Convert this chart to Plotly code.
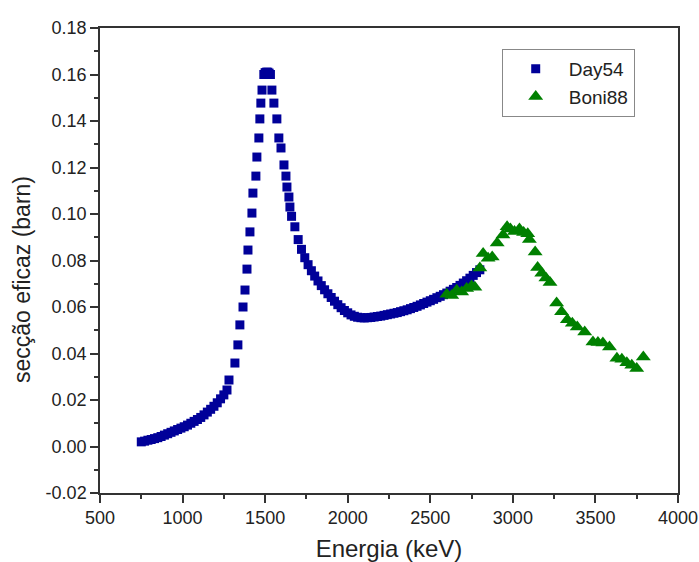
import plotly.graph_objects as go

# Day54 data (energy keV, cross section barn)
day54_E = [750, 770, 790, 810, 830, 850, 870, 890, 910, 930, 950, 970, 990, 1010, 1030,
           1050, 1070, 1090, 1110, 1130, 1150, 1170, 1190, 1210, 1230, 1250,
           1269, 1281, 1317, 1335, 1347, 1366, 1378, 1390, 1396, 1408, 1420, 1426, 1444,
           1450, 1462, 1468, 1474, 1481, 1492, 1500, 1508, 1516, 1524, 1532,
           1541, 1553, 1571, 1583, 1596, 1614, 1626, 1632, 1644, 1650,
           1660, 1680, 1700, 1720, 1740, 1760, 1780, 1800, 1820, 1840, 1860, 1880, 1900,
           1920, 1940, 1960, 1980, 2000, 2020, 2040, 2060, 2080, 2100, 2120, 2140, 2160,
           2180, 2200, 2220, 2240, 2260, 2280, 2300, 2320, 2340, 2360, 2380, 2400, 2420,
           2440, 2460, 2480, 2500, 2520, 2540, 2560, 2580, 2600, 2620, 2640, 2660, 2680,
           2700, 2720, 2740, 2760, 2780, 2800]
day54_v = [0.0020, 0.0023, 0.0027, 0.0030, 0.0034, 0.0038, 0.0043, 0.0049, 0.0055, 0.0061,
           0.0067, 0.0073, 0.0079, 0.0085, 0.0092, 0.0100, 0.0108, 0.0116, 0.0125, 0.0136,
           0.0148, 0.0160, 0.0173, 0.0188, 0.0205, 0.0222,
           0.0243, 0.0286, 0.0359, 0.0437, 0.0523, 0.0600, 0.0673, 0.0763, 0.0845, 0.0923,
           0.1004, 0.1090, 0.1163, 0.1245, 0.1327, 0.1409, 0.1477, 0.1533, 0.1600, 0.1608,
           0.1610, 0.1610, 0.1606, 0.1600,
           0.1533, 0.1477, 0.1409, 0.1327, 0.1284, 0.1211, 0.1163, 0.1116, 0.1073, 0.1030,
           0.0990, 0.0945, 0.0890, 0.0848, 0.0812, 0.0782, 0.0756, 0.0733, 0.0712, 0.0692,
           0.0674, 0.0657, 0.0641, 0.0625, 0.0610, 0.0597, 0.0585, 0.0575, 0.0566, 0.0560,
           0.0556, 0.0554, 0.0553, 0.0554, 0.0555, 0.0557, 0.0559, 0.0561, 0.0564, 0.0567,
           0.0570, 0.0573, 0.0576, 0.0580, 0.0584, 0.0588, 0.0593, 0.0598, 0.0603, 0.0609,
           0.0615, 0.0621, 0.0627, 0.0633, 0.0640, 0.0646, 0.0653, 0.0660, 0.0668, 0.0676,
           0.0684, 0.0693, 0.0703, 0.0713, 0.0724, 0.0736, 0.0748, 0.0760]

# Boni88 data
boni_E = [2600, 2630, 2660, 2690, 2720, 2750, 2770, 2800, 2820, 2850, 2875, 2905, 2940,
          2965, 2985, 3010, 3040, 3065, 3090, 3100, 3135, 3150, 3175, 3200, 3225, 3265,
          3295, 3330, 3360, 3390, 3435, 3485, 3515, 3545, 3585, 3630, 3660, 3690, 3720,
          3750, 3790]
boni_v = [0.0655, 0.0650, 0.0672, 0.0665, 0.0680, 0.0690, 0.0685, 0.0768, 0.0830, 0.0810,
          0.0815, 0.0875, 0.0910, 0.0945, 0.0935, 0.0925, 0.0935, 0.0920, 0.0915, 0.0890,
          0.0837, 0.0770, 0.0745, 0.0725, 0.0705, 0.0617, 0.0580, 0.0545, 0.0530, 0.0514,
          0.0492, 0.0450, 0.0447, 0.0445, 0.0428, 0.0380, 0.0375, 0.0360, 0.0350, 0.0335,
          0.0385]

y_ticks = [-0.02, 0.00, 0.02, 0.04, 0.06, 0.08, 0.10, 0.12, 0.14, 0.16, 0.18]
y_ticktext = ["-0.02", "0.00", "0.02", "0.04", "0.06", "0.08", "0.10", "0.12", "0.14", "0.16", "0.18"]
x_ticks = [500, 1000, 1500, 2000, 2500, 3000, 3500, 4000]

fig = go.Figure()
fig.add_trace(go.Scatter(x=day54_E, y=day54_v, mode="markers", name="Day54",
                         marker=dict(symbol="square", size=9, color="#000099")))
fig.add_trace(go.Scatter(x=boni_E, y=boni_v, mode="markers", name="Boni88",
                         marker=dict(symbol="triangle-up", size=13, color="#008000")))

FONT = "Liberation Sans, Arial, sans-serif"
axis_font = dict(family=FONT, size=18, color="#222")
fig.update_layout(
    width=699, height=562,
    margin=dict(l=100, r=21, t=28, b=69),
    paper_bgcolor="white", plot_bgcolor="white",
    font=dict(family=FONT, color="#222"),
    legend=dict(x=0.695, y=0.955, xanchor="left", yanchor="top",
                bordercolor="#888", borderwidth=1, bgcolor="white",
                font=dict(size=19, color="#222"), itemwidth=56,
                tracegroupgap=0),
    xaxis=dict(range=[500, 4000], tickvals=x_ticks, ticks="outside", ticklen=8,
               tickwidth=1.5, tickcolor="#333", showline=True, linecolor="#333",
               linewidth=1.5, mirror=True, showgrid=False, zeroline=False,
               automargin=False, tickfont=axis_font,
               minor=dict(dtick=250, ticks="outside", ticklen=4, tickcolor="#333", showgrid=False),
               title=dict(text="Energia (keV)", font=dict(family=FONT, size=24, color="#222"), standoff=16)),
    yaxis=dict(range=[-0.02, 0.18], tickvals=y_ticks, ticktext=y_ticktext, ticks="outside",
               ticklen=8, tickwidth=1.5, tickcolor="#333", showline=True, linecolor="#333",
               linewidth=1.5, mirror=True, showgrid=False, zeroline=False,
               automargin=False, tickfont=axis_font,
               minor=dict(dtick=0.01, tick0=0, ticks="outside", ticklen=4, tickcolor="#333", showgrid=False)),
    annotations=[dict(text="secção eficaz (barn)", xref="paper", yref="paper",
                      x=-0.135, y=0.46, xanchor="center", yanchor="middle",
                      textangle=-90, showarrow=False,
                      font=dict(family=FONT, size=23, color="#222"))],
)

fig.write_html("out.html")
